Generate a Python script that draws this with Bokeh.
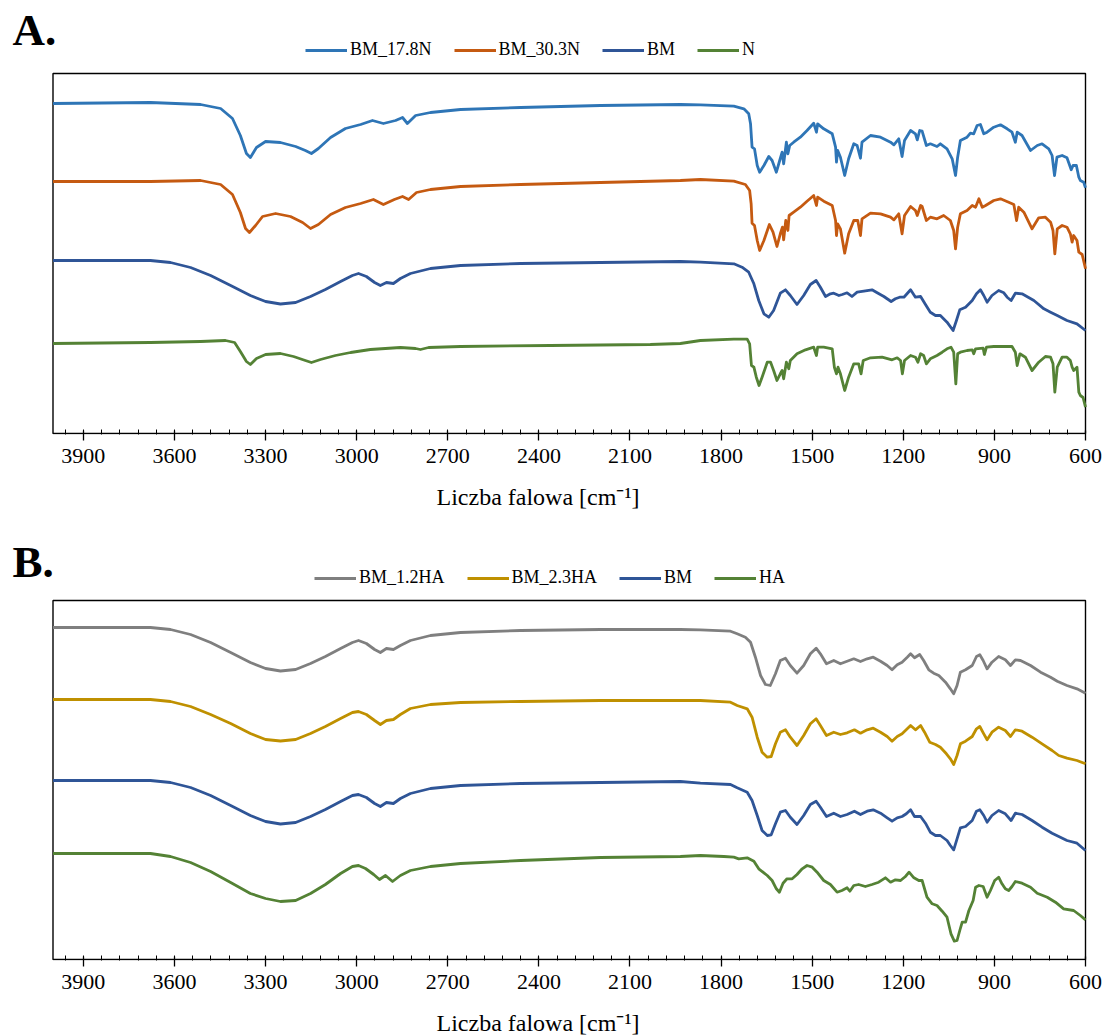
from bokeh.plotting import figure
from bokeh.models import Range1d, FixedTicker, Legend, LegendItem, Label
from bokeh.layouts import column
from bokeh.embed import file_html
from bokeh.resources import INLINE

SERIF = "Liberation Serif"

# Wavenumber axis (cm^-1), drawn high -> low
X_START, X_END = 4000, 600
X_TICKS = [3900, 3600, 3300, 3000, 2700, 2400, 2100, 1800, 1500, 1200, 900, 600]
X_MINOR = list(range(660, 4000, 60))
X_LABEL = "Liczba falowa [cm\u207b\u00b9]"

# ---- Panel A: stacked FTIR spectra (wavenumber, transmittance a.u. incl. stack offset)
A_BM_17_8N = [
    (4000, 330), (3679, 331), (3514, 329), (3448, 325), (3409, 315), (3383, 298), (3363, 280),
    (3350, 276), (3330, 286), (3300, 292), (3251, 291), (3201, 287), (3169, 283), (3149, 280),
    (3126, 285), (3086, 296), (3037, 305), (2987, 309), (2948, 313), (2912, 310), (2872, 313),
    (2849, 316), (2833, 310), (2806, 318), (2757, 321), (2658, 324), (2460, 326), (2197, 328),
    (1934, 329), (1868, 328.7), (1758, 327.3), (1725, 324.7), (1709, 319.7), (1703, 309.7),
    (1698, 286.3), (1690, 284.7), (1681, 268), (1673, 261.3), (1659, 268), (1643, 277),
    (1632, 273), (1618, 261.3), (1607, 273), (1599, 281.3), (1594, 269.7), (1585, 291.3),
    (1580, 279.7), (1574, 288), (1561, 291.3), (1539, 296.3), (1517, 303), (1495, 310.3),
    (1486, 301.3), (1482, 309.7), (1462, 304.7), (1434, 299.7), (1423, 286.3), (1420, 271.3),
    (1416, 283), (1407, 276.3), (1393, 258), (1380, 274.7), (1363, 289.7), (1352, 288),
    (1341, 275.3), (1336, 291.3), (1308, 298), (1275, 296.3), (1242, 291.3), (1231, 288.7),
    (1215, 294.7), (1204, 277), (1196, 293), (1176, 303), (1160, 299.7), (1154, 293.7),
    (1146, 303), (1138, 302.3), (1124, 288), (1111, 289.7), (1089, 287), (1078, 289.7),
    (1056, 284.7), (1039, 274.7), (1028, 258), (1021, 276.3), (1012, 293), (990, 296.3),
    (979, 300.3), (968, 299.7), (957, 308), (946, 309), (935, 299.7), (924, 301.3), (902, 306.3),
    (880, 308.7), (858, 304.7), (842, 301.3), (831, 291.3), (825, 301.3), (809, 298), (781, 283),
    (759, 288), (743, 289.7), (721, 284.7), (710, 278), (702, 258), (694, 276.3), (677, 278),
    (661, 275.7), (647, 263.7), (641, 268), (630, 268), (622, 256.3), (617, 253), (606, 251.3),
    (600, 245.7),
]

A_BM_30_3N = [
    (4000, 252), (3679, 252), (3514, 253), (3448, 249), (3409, 239), (3383, 221), (3366, 205),
    (3353, 201), (3333, 208), (3310, 217), (3267, 220), (3218, 217), (3178, 211), (3152, 205),
    (3126, 209), (3086, 219), (3037, 226), (2987, 230), (2945, 234), (2912, 229), (2876, 234),
    (2849, 237), (2829, 234), (2803, 241), (2757, 244), (2658, 247), (2460, 249), (2197, 251),
    (1934, 253), (1868, 254), (1758, 252.3), (1720, 249), (1706, 243), (1701, 229.7),
    (1698, 210.3), (1690, 208), (1681, 193), (1673, 183), (1659, 193), (1641, 209),
    (1629, 201.3), (1616, 187), (1605, 199.7), (1598, 206.3), (1594, 193.7), (1587, 213),
    (1580, 203), (1576, 218), (1561, 221.3), (1539, 226.3), (1517, 232.3), (1495, 238),
    (1486, 228), (1482, 236.3), (1462, 232.3), (1434, 228), (1423, 213), (1420, 198),
    (1416, 209.7), (1407, 204.7), (1393, 180.3), (1380, 199.7), (1363, 213), (1350, 213),
    (1341, 198), (1336, 214.7), (1308, 220.3), (1275, 219.7), (1242, 216.3), (1231, 213.7),
    (1215, 219.7), (1204, 199.7), (1196, 218), (1176, 227), (1160, 223), (1154, 218),
    (1143, 228), (1138, 227), (1124, 213), (1111, 216.3), (1089, 214.7), (1067, 218),
    (1045, 213), (1034, 203), (1028, 184.7), (1021, 206.3), (1012, 219.7), (990, 223),
    (973, 228), (962, 226.3), (951, 234.7), (940, 226.3), (929, 228), (902, 233), (880, 234.7),
    (853, 231.3), (836, 229), (827, 213), (820, 226.3), (803, 221.3), (776, 204.7),
    (754, 215.7), (732, 216.3), (715, 211.3), (707, 203), (701, 179.7), (693, 204.7),
    (677, 208), (661, 206.3), (650, 199.7), (644, 191.3), (639, 198), (628, 193),
    (622, 181.3), (611, 179), (600, 164.7),
]

A_BM = [
    (4000, 173), (3679, 173), (3613, 171), (3547, 166), (3481, 158), (3415, 148), (3350, 138),
    (3300, 132), (3251, 129.5), (3201, 131), (3152, 137), (3103, 144), (3053, 152), (3014, 158),
    (2994, 160), (2968, 157), (2941, 151), (2922, 148), (2902, 151), (2879, 150), (2856, 155),
    (2823, 160), (2757, 165), (2658, 168), (2460, 170), (2197, 171), (1934, 172), (1868, 171.3),
    (1758, 169.7), (1731, 166.3), (1709, 161.3), (1692, 149.7), (1676, 133), (1659, 119.7),
    (1643, 116.3), (1627, 123), (1605, 140.3), (1588, 143.7), (1572, 138), (1550, 129),
    (1528, 138), (1506, 149), (1487, 153), (1473, 146.3), (1456, 137), (1440, 139.7),
    (1429, 140.3), (1412, 138), (1401, 139), (1385, 140.7), (1369, 137), (1352, 141.3),
    (1330, 142.3), (1303, 143.7), (1286, 140.7), (1264, 137), (1240, 132), (1226, 134.7),
    (1212, 136.3), (1198, 136.3), (1176, 143.7), (1160, 136.3), (1143, 137), (1127, 129),
    (1111, 121.3), (1094, 118), (1078, 118), (1056, 111.3), (1036, 103), (1025, 113),
    (1014, 123.7), (995, 126.3), (973, 133), (959, 139.7), (946, 143.7), (935, 138),
    (924, 131.3), (908, 138), (886, 143), (869, 140.7), (858, 136.3), (845, 133), (831, 140.3),
    (809, 139.7), (770, 133), (737, 124.7), (715, 121.3), (693, 118), (661, 113), (628, 109.7),
    (600, 103),
]

A_N = [
    (4000, 90), (3679, 91), (3514, 92), (3432, 93), (3402, 91), (3383, 82), (3363, 72),
    (3350, 69), (3330, 75), (3300, 79), (3251, 80), (3208, 77), (3169, 73), (3149, 71),
    (3119, 74), (3070, 78), (3020, 81), (2955, 84), (2856, 86), (2806, 85), (2790, 84),
    (2763, 86), (2658, 87), (2362, 88), (2033, 89), (1934, 90), (1868, 93), (1758, 94.3),
    (1714, 94.3), (1706, 89.7), (1700, 68), (1692, 66.3), (1684, 56.3), (1675, 48),
    (1665, 56.3), (1648, 71.3), (1637, 71.3), (1627, 63), (1616, 53), (1605, 59.7), (1599, 63),
    (1594, 54.7), (1585, 71.3), (1577, 64.7), (1572, 73), (1550, 79.7), (1522, 83.7),
    (1495, 86.3), (1486, 78), (1482, 86.3), (1462, 86.3), (1434, 84.7), (1427, 66.3),
    (1420, 59.7), (1415, 66.3), (1407, 59.7), (1393, 43), (1380, 56.3), (1363, 69.7),
    (1347, 69.7), (1339, 59.7), (1332, 73), (1308, 75.7), (1270, 76.3), (1237, 73.7),
    (1220, 75.7), (1209, 73), (1203, 59.7), (1196, 73), (1176, 78), (1160, 76.3), (1152, 71.3),
    (1143, 79.7), (1133, 78), (1124, 69.7), (1111, 74.7), (1089, 78), (1072, 81.3),
    (1056, 84.7), (1043, 86.3), (1034, 81.3), (1027, 49.7), (1021, 79.7), (1012, 81.3),
    (990, 83), (973, 83.7), (968, 79.7), (962, 84.7), (937, 85.3), (933, 79), (926, 86.3),
    (902, 87), (842, 87), (831, 81.3), (825, 68), (816, 79.7), (798, 76.3), (776, 63),
    (754, 71.3), (732, 77), (715, 76.3), (707, 69.7), (701, 41.3), (693, 66.3), (677, 76.3),
    (661, 76.3), (650, 73), (644, 66.3), (639, 63), (628, 66.3), (622, 41.3), (617, 38),
    (608, 36), (600, 26.3),
]

# ---- Panel B
B_BM_1_2HA = [
    (4000, 332), (3679, 332), (3613, 330), (3547, 325), (3481, 317), (3415, 307), (3350, 297),
    (3300, 291), (3251, 288.5), (3201, 290), (3152, 296), (3103, 303), (3053, 311), (3014, 317),
    (2994, 319), (2968, 316), (2941, 310), (2922, 307), (2902, 311), (2879, 310), (2856, 314),
    (2823, 319), (2757, 324), (2658, 327), (2460, 329), (2197, 330), (1934, 330), (1868, 329.7),
    (1769, 328.3), (1747, 325.7), (1720, 322.3), (1703, 317.3), (1687, 302.3), (1670, 284),
    (1654, 275), (1638, 274), (1621, 285.7), (1605, 299), (1588, 301.3), (1572, 294),
    (1550, 286.3), (1528, 294), (1506, 305.7), (1487, 311.3), (1473, 305.7), (1453, 295.7),
    (1429, 299), (1407, 295.7), (1385, 298.3), (1363, 300.7), (1341, 298), (1319, 300.7),
    (1299, 302.3), (1275, 298.3), (1253, 294), (1237, 289.7), (1220, 294.7), (1204, 297.3),
    (1187, 302.3), (1176, 305.7), (1163, 301.7), (1146, 305), (1133, 299), (1116, 289.7),
    (1100, 286.3), (1083, 284), (1061, 277.3), (1045, 270.7), (1034, 265.7), (1023, 274),
    (1012, 287.3), (995, 289.7), (973, 294), (959, 303), (948, 304.7), (937, 299),
    (924, 290.7), (908, 297.3), (886, 303), (864, 299.7), (847, 294), (831, 299.7), (814, 299),
    (781, 294), (748, 287.3), (715, 282.3), (693, 278.3), (661, 274), (628, 270.7),
    (600, 266.3),
]

B_BM_2_3HA = [
    (4000, 260), (3679, 260), (3613, 258), (3547, 253), (3481, 245), (3415, 236), (3350, 226),
    (3300, 220), (3251, 218.5), (3201, 220), (3152, 226), (3103, 233), (3053, 241), (3014, 247),
    (2994, 248), (2968, 245), (2941, 239), (2922, 235), (2902, 239), (2879, 240), (2856, 245),
    (2823, 251), (2757, 255), (2658, 257), (2460, 258), (2197, 259), (1934, 259), (1868, 259),
    (1769, 257.3), (1747, 254), (1714, 250.7), (1698, 242.3), (1681, 222.3), (1665, 207.3),
    (1648, 202.3), (1635, 203), (1621, 215.7), (1605, 227.3), (1588, 229.7), (1572, 222.3),
    (1550, 214), (1528, 224), (1506, 235.7), (1487, 240.7), (1473, 234), (1453, 224),
    (1429, 227.3), (1407, 225), (1385, 226.7), (1361, 229.7), (1341, 226.3), (1319, 229.7),
    (1299, 231.3), (1275, 227.3), (1253, 223), (1237, 218.3), (1220, 223), (1204, 225.7),
    (1187, 230.7), (1176, 234), (1160, 229.7), (1143, 234), (1130, 227.3), (1113, 217.3),
    (1094, 215), (1078, 212.3), (1058, 205.7), (1045, 200.7), (1034, 195), (1023, 204),
    (1012, 215.7), (995, 218.3), (973, 223), (959, 230.7), (948, 233), (935, 225.7),
    (924, 219.7), (908, 227.3), (886, 232.3), (864, 229), (847, 223), (831, 229.7),
    (809, 228.3), (776, 222.3), (743, 215.7), (710, 209), (688, 204), (661, 201.3), (628, 199),
    (600, 195.7),
]

B_BM = [
    (4000, 179), (3679, 179), (3613, 177), (3547, 172), (3481, 164), (3415, 154), (3350, 144),
    (3300, 138), (3251, 135.5), (3201, 137), (3152, 143), (3103, 150), (3053, 158), (3014, 164),
    (2994, 165), (2968, 162), (2941, 156), (2922, 153), (2902, 157), (2879, 156), (2856, 161),
    (2823, 166), (2757, 171), (2658, 174), (2460, 176), (2197, 177), (1934, 178), (1868, 176.3),
    (1769, 175), (1747, 171.7), (1714, 167.3), (1698, 159), (1681, 144), (1665, 129),
    (1648, 124), (1635, 124.7), (1621, 135.7), (1605, 147.3), (1588, 149), (1572, 142.3),
    (1550, 135), (1528, 144), (1506, 155), (1487, 158.3), (1473, 152.3), (1453, 143),
    (1429, 146.3), (1407, 143), (1385, 145), (1361, 148.3), (1341, 145), (1319, 148.3),
    (1299, 149.7), (1275, 146.3), (1253, 141.7), (1237, 138.3), (1220, 141.7), (1204, 143),
    (1190, 145.7), (1176, 149.7), (1163, 143), (1143, 143), (1127, 136.3), (1111, 127.3),
    (1094, 124), (1078, 124), (1056, 119), (1045, 114), (1034, 109.7), (1023, 120.7),
    (1012, 131.7), (995, 133), (973, 139), (959, 148.3), (948, 149.7), (935, 144),
    (924, 137.3), (908, 144), (886, 149), (864, 145.7), (845, 139), (831, 146.3), (809, 145),
    (776, 139), (743, 132.3), (710, 126.3), (688, 123), (661, 119), (628, 116.3), (600, 109),
]

B_HA = [
    (4000, 106), (3679, 106), (3613, 103), (3547, 97), (3481, 88), (3415, 77), (3350, 66),
    (3300, 61), (3251, 58), (3201, 59), (3152, 66), (3103, 75), (3053, 86), (3014, 93),
    (2994, 94), (2971, 91), (2944, 85), (2925, 80), (2905, 84), (2882, 78), (2856, 84),
    (2823, 89), (2757, 93), (2658, 96), (2460, 99), (2197, 102), (1934, 103), (1868, 104),
    (1791, 103), (1758, 102.3), (1742, 100.7), (1714, 101.7), (1692, 98.3), (1676, 90.7),
    (1648, 84), (1632, 79), (1618, 70.7), (1608, 67.3), (1596, 76.3), (1583, 80.7),
    (1566, 80.7), (1550, 85), (1533, 90.7), (1517, 94), (1500, 92.3), (1484, 87.3), (1462, 79),
    (1440, 75), (1418, 67.3), (1402, 69), (1385, 71.7), (1376, 68.3), (1363, 74), (1347, 75),
    (1325, 73), (1303, 75), (1281, 77.3), (1259, 81.7), (1242, 77.3), (1226, 79.7), (1209, 79),
    (1193, 83), (1181, 87.3), (1165, 81.7), (1149, 79), (1138, 79), (1122, 62.3), (1105, 55.7),
    (1089, 54), (1072, 48.3), (1056, 42.3), (1043, 25.7), (1032, 18.3), (1023, 19), (1014, 29),
    (1006, 37.3), (995, 37.3), (984, 49), (970, 59), (962, 72.3), (951, 74), (937, 73),
    (924, 62.3), (913, 69), (899, 79), (886, 82.3), (875, 75.7), (864, 70.7), (853, 69),
    (842, 73), (831, 78), (809, 76.3), (781, 72.3), (759, 66.3), (726, 62.3), (699, 57.3),
    (672, 50.7), (639, 49), (617, 44), (600, 39.7),
]

A_NAMES = ["BM_17.8N", "BM_30.3N", "BM", "N"]
A_SERIES = [A_BM_17_8N, A_BM_30_3N, A_BM, A_N]
A_COLORS = ["#2E75B6", "#C55A11", "#2F5597", "#548235"]

B_NAMES = ["BM_1.2HA", "BM_2.3HA", "BM", "HA"]
B_SERIES = [B_BM_1_2HA, B_BM_2_3HA, B_BM, B_HA]
B_COLORS = ["#7F7F7F", "#BF9000", "#2F5597", "#548235"]

WIDTH = 1105
BOX_LEFT, BOX_RIGHT = 52.5, 1085     # plot box edges in canvas pixels
UNITS_PER_PX = (X_START - X_END) / (BOX_RIGHT - BOX_LEFT)
TITLE_X = 436                        # left edge of the axis title text, px


def axis_title(y):
    return Label(x=TITLE_X, y=y, x_units="screen", y_units="screen", text=X_LABEL,
                 text_font=SERIF, text_font_size="24px", text_color="black",
                 text_align="left", text_baseline="middle")


def make_panel(letter, names, series, colors, frame_h, bottom, y_box, legend_xy, letter_y):
    # The frame spans the whole canvas width and top so that the legend and the
    # panel letter can live inside it; the data box itself is drawn as a quad.
    x_lo = X_START + BOX_LEFT * UNITS_PER_PX
    x_hi = X_END - (WIDTH - BOX_RIGHT) * UNITS_PER_PX
    p = figure(width=WIDTH, height=frame_h + bottom, output_backend="svg",
               toolbar_location=None,
               x_range=Range1d(x_lo, x_hi), y_range=Range1d(-1, frame_h - 1),
               y_axis_type=None, min_border_left=0, min_border_right=0,
               min_border_top=0, min_border_bottom=bottom)
    p.grid.visible = False
    p.background_fill_color = "white"
    p.border_fill_color = "white"
    p.outline_line_color = None

    ax = p.xaxis[0]
    ax.ticker = FixedTicker(ticks=X_TICKS, minor_ticks=X_MINOR)
    ax.axis_line_color = None
    ax.major_tick_line_color = "black"
    ax.major_tick_line_width = 1.3
    ax.major_tick_in = 4
    ax.major_tick_out = 6
    ax.minor_tick_line_color = "black"
    ax.minor_tick_line_width = 1
    ax.minor_tick_in = 5
    ax.minor_tick_out = 0
    ax.major_label_text_font = SERIF
    ax.major_label_text_font_size = "22px"
    ax.major_label_text_color = "black"
    ax.major_label_standoff = 8

    p.quad(left=X_START, right=X_END, bottom=0, top=y_box,
           fill_alpha=0, line_color="black", line_width=1.4)

    items = []
    for name, data, color in zip(names, series, colors):
        xs = [w for w, _ in data]
        ys = [t for _, t in data]
        r = p.line(xs, ys, line_color=color, line_width=2.8, line_join="round")
        items.append(LegendItem(label=name, renderers=[r]))

    legend = Legend(items=items, orientation="horizontal", location=legend_xy,
                    margin=0, padding=4, spacing=22, glyph_width=42, glyph_height=20,
                    label_standoff=3, label_height=20,
                    label_text_font=SERIF, label_text_font_size="18px",
                    label_text_font_style="normal", label_text_color="black",
                    border_line_alpha=0, background_fill_alpha=0)
    p.add_layout(legend)

    p.add_layout(Label(x=12, y=letter_y, x_units="screen", y_units="screen",
                       text=letter, text_font=SERIF, text_font_size="45px",
                       text_font_style="bold", text_color="black",
                       text_align="left", text_baseline="middle"))
    return p


# Panel A (top), panel B; panel B's frame also holds panel A's axis title,
# and a thin strip at the bottom holds panel B's axis title.
pA = make_panel("A.", A_NAMES, A_SERIES, A_COLORS, 434, 34, 360, (301, 370), 405)
pB = make_panel("B.", B_NAMES, B_SERIES, B_COLORS, 492, 34, 359, (310, 368), 399)
pB.add_layout(axis_title(464))

pC = figure(width=WIDTH, height=1035 - 468 - 526, output_backend="svg",
            toolbar_location=None, x_range=Range1d(0, 1), y_range=Range1d(0, 1),
            x_axis_type=None, y_axis_type=None, min_border=0)
pC.outline_line_color = None
pC.grid.visible = False
pC.add_layout(axis_title(13))

layout = column(pA, pB, pC, spacing=0)
open("out.html", "w").write(file_html(layout, INLINE))
